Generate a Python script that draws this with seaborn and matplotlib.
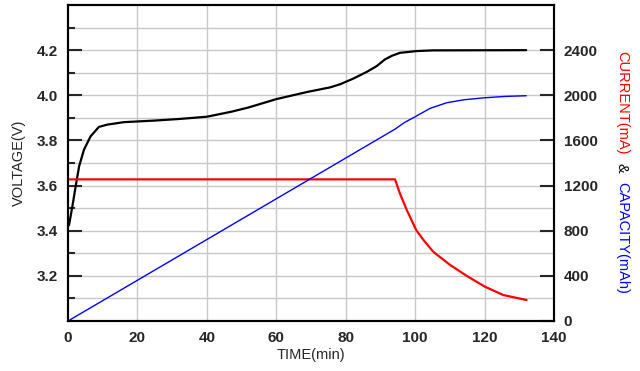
import numpy as np
import matplotlib
matplotlib.use("Agg")
import matplotlib.pyplot as plt
import seaborn as sns

sns.set_style("white")
plt.rcParams['font.family'] = ['Liberation Sans', 'DejaVu Sans']

# charge curve values
volt_time = [0, 0.3, 1.25, 2.2, 3.2, 4.6, 6.5, 8.9, 11.3, 16.1, 25, 32, 40, 47,
             52, 60, 69, 75.5, 78.4, 82.2, 86.1, 88.9, 91.3, 93.3, 95.6, 100.5,
             105.2, 132]
voltage = [3.42, 3.425, 3.507, 3.596, 3.685, 3.759, 3.818, 3.860, 3.870, 3.881,
           3.888, 3.895, 3.905, 3.927, 3.946, 3.983, 4.015, 4.035, 4.049, 4.074,
           4.104, 4.129, 4.159, 4.175, 4.188, 4.196, 4.199, 4.2]

curr_time = [0, 94.2, 95.6, 97.6, 100.3, 102.4, 105.2, 110.1, 114.9, 120.1,
             125.4, 132.1]
current = [1255, 1255, 1131, 983, 806, 718, 614, 496, 399, 304, 230, 186]

cap_time = [0, 94.2, 97, 100, 104.3, 109.1, 114, 120, 126, 132]
capacity = [0, 1700, 1760, 1810, 1884, 1934, 1960, 1978, 1990, 1996]

x_ticks = [0, 20, 40, 60, 80, 100, 120, 140]
v_ticks = [3.2, 3.4, 3.6, 3.8, 4.0, 4.2]
v_minor = [3.1, 3.3, 3.5, 3.7, 3.9, 4.1, 4.3]
mah_ticks = [0, 400, 800, 1200, 1600, 2000, 2400]

fig = plt.figure(figsize=(6.4, 3.71), dpi=100)
ax = fig.add_axes([68 / 640, 1 - 321 / 371, (554 - 68) / 640, (321 - 5) / 371])
ax2 = ax.twinx()

# grid on the voltage axis
for v in np.arange(3.1, 4.35, 0.1):
    ax.axhline(v, color='#c8c8c8', lw=1.0, zorder=0)
for t in x_ticks[1:-1]:
    ax.axvline(t, color='#c8c8c8', lw=1.0, zorder=0)

sns.lineplot(x=volt_time, y=voltage, ax=ax, color='black', lw=1.6, estimator=None)
sns.lineplot(x=curr_time, y=current, ax=ax2, color='#ff0000', lw=1.6, estimator=None)
sns.lineplot(x=cap_time, y=capacity, ax=ax2, color='#0000ff', lw=1.0, estimator=None)

ax.set_xlim(0, 140)
ax.set_ylim(3.0, 4.4)
ax2.set_ylim(0, 2800)

ax.set_xticks(x_ticks)
ax.set_yticks(v_ticks)
ax.set_yticks(v_minor, minor=True)
ax2.set_yticks(mah_ticks)

ax.tick_params(axis='both', which='major', direction='in', length=10, width=1.5,
               labelsize=11, pad=7)
ax.tick_params(axis='y', which='minor', direction='in', length=5, width=1.5)
ax.tick_params(axis='x', which='major', top=False)
ax2.tick_params(axis='y', which='major', direction='in', length=10, width=1.5,
                labelsize=11, pad=7)
for lab in ax.get_xticklabels() + ax.get_yticklabels() + ax2.get_yticklabels():
    lab.set_fontweight('bold')

for a in (ax, ax2):
    for s in a.spines.values():
        s.set_color('black')
        s.set_linewidth(1.5)

ax.set_xlabel('TIME(min)', fontsize=10.5, labelpad=2)
ax.set_ylabel('VOLTAGE(V)', fontsize=10.5, labelpad=8)
ax2.set_ylabel('')

# right axis label in three colours
xr = 622 / 640
fig.text(xr, 1 - 51 / 371, 'CURRENT(mA)', rotation=270, ha='center', va='top',
         color='#ff0000', fontsize=10.5)
fig.text(xr, 1 - 168 / 371, '&', rotation=270, ha='center', va='center',
         color='black', fontsize=10.5)
fig.text(xr, 1 - 182 / 371, 'CAPACITY(mAh)', rotation=270, ha='center', va='top',
         color='#0000ff', fontsize=10.5)

fig.savefig('out.png', dpi=100)
